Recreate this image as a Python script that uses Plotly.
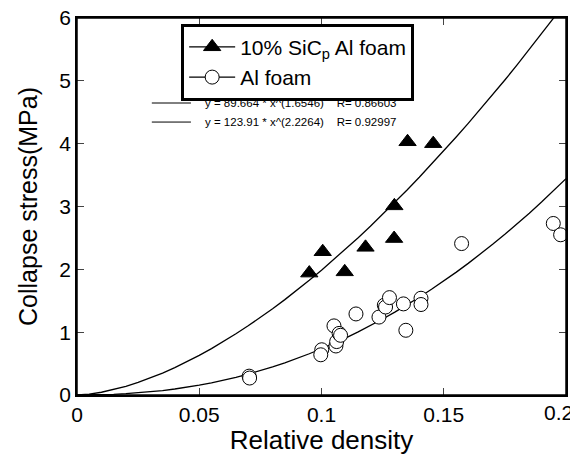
import numpy as np
import plotly.graph_objects as go

# Data
sic_x = [0.095, 0.1005, 0.1095, 0.118, 0.1297, 0.1298, 0.1352, 0.1457]
sic_y = [1.94, 2.28, 1.96, 2.35, 2.49, 3.01, 4.03, 4.00]

al_x = [0.0704, 0.0706, 0.1001, 0.0997, 0.1051, 0.1059, 0.1062, 0.1072, 0.1078,
        0.1141, 0.1235, 0.1257, 0.1262, 0.1278, 0.1335, 0.1345, 0.1407, 0.1407,
        0.1573, 0.1948, 0.1978]
al_y = [0.30, 0.27, 0.72, 0.64, 1.10, 0.78, 0.85, 0.98, 0.95,
        1.29, 1.24, 1.43, 1.40, 1.55, 1.45, 1.03, 1.54, 1.44,
        2.41, 2.73, 2.55]

# Fit coefficients shown on the chart
fit_sic = (89.664, 1.6546, 0.86603)
fit_al = (123.91, 2.2264, 0.92997)

x_ticks = [0, 0.05, 0.1, 0.15, 0.2]
x_labels = ["0", "0.05", "0.1", "0.15", "0.2"]
y_ticks = [0, 1, 2, 3, 4, 5, 6]

xf = np.linspace(0, 0.2, 41)

fig = go.Figure()
fig.add_trace(go.Scatter(x=xf, y=fit_sic[0] * xf ** fit_sic[1], mode="lines",
                         line=dict(color="black", width=1.3), showlegend=False,
                         hoverinfo="skip"))
fig.add_trace(go.Scatter(x=xf, y=fit_al[0] * xf ** fit_al[1], mode="lines",
                         line=dict(color="black", width=1.3), showlegend=False,
                         hoverinfo="skip"))

tri_marker = dict(symbol="triangle-up", size=15, color="black",
                  line=dict(color="black", width=1))
circ_marker = dict(symbol="circle", size=14, color="white",
                   line=dict(color="black", width=1))

fig.add_trace(go.Scatter(x=sic_x, y=sic_y, mode="markers", marker=tri_marker,
                         showlegend=False))
fig.add_trace(go.Scatter(x=al_x, y=al_y, mode="markers", marker=circ_marker,
                         showlegend=False))
# legend entries (line + marker, as in the reference legend)
fig.add_trace(go.Scatter(x=[None], y=[None], mode="lines+markers",
                         name="10% SiC<sub>p</sub> Al foam",
                         line=dict(color="black", width=1.2), marker=tri_marker))
fig.add_trace(go.Scatter(x=[None], y=[None], mode="lines+markers",
                         name="Al foam",
                         line=dict(color="black", width=1.2), marker=circ_marker))

font = "Liberation Sans, Arial, sans-serif"
# the page body adds an 8px margin, so the figure is 8px smaller and shifted
fig.update_layout(
    width=570, height=447,
    margin=dict(l=69, r=12, t=10, b=60),
    paper_bgcolor="white", plot_bgcolor="white",
    font=dict(family=font, color="black", size=21),
    legend=dict(x=0.213, y=0.985, xanchor="left", yanchor="top",
                bordercolor="black", borderwidth=3, bgcolor="white",
                font=dict(size=21), itemwidth=46, tracegroupgap=0),
    xaxis=dict(range=[0, 0.2], tickvals=x_ticks,
               ticktext=x_labels[:-1] + [""],
               ticks="inside", ticklen=7, showline=True, linecolor="black",
               linewidth=1.5, mirror="allticks", showgrid=False, zeroline=False,
               automargin=False, ticklabeloverflow="allow",
               title=dict(text="Relative density", font=dict(size=26), standoff=0),
               tickfont=dict(size=21)),
    yaxis=dict(range=[0, 6], tickvals=y_ticks,
               ticks="inside", ticklen=7, showline=True, linecolor="black",
               linewidth=1.5, mirror="allticks", showgrid=False, zeroline=False,
               automargin=False, ticklabeloverflow="allow",
               title=dict(text="Collapse stress(MPa)", font=dict(size=25), standoff=15),
               tickfont=dict(size=21)),
)

# frame around the plot area
fig.add_shape(type="rect", xref="paper", yref="paper", x0=0, x1=1, y0=0, y1=1,
              line=dict(color="black", width=1.5), layer="above")

# last x tick label, pulled left so it stays inside the page (as in the reference)
fig.add_annotation(x=x_ticks[-1], y=0, xref="x", yref="paper", text=x_labels[-1],
                   showarrow=False, xanchor="right", yanchor="top", xshift=9,
                   yshift=-4, font=dict(size=21, family=font))

# fit equation labels (as shown on the chart)
eqs = [f"y = {fit_sic[0]} * x^({fit_sic[1]})    R= {fit_sic[2]}",
       f"y = {fit_al[0]} * x^({fit_al[1]})    R= {fit_al[2]}"]
for i, t in enumerate(eqs):
    yp = 0.7745 - i * 0.0505
    fig.add_annotation(x=0.258, y=yp, xref="paper", yref="paper", text=t,
                       showarrow=False, xanchor="left", yanchor="middle",
                       font=dict(size=11.5, family=font))
    fig.add_shape(type="line", xref="paper", yref="paper", x0=0.153, x1=0.233,
                  y0=yp, y1=yp, line=dict(color="black", width=1))

fig.write_html("out.html")
